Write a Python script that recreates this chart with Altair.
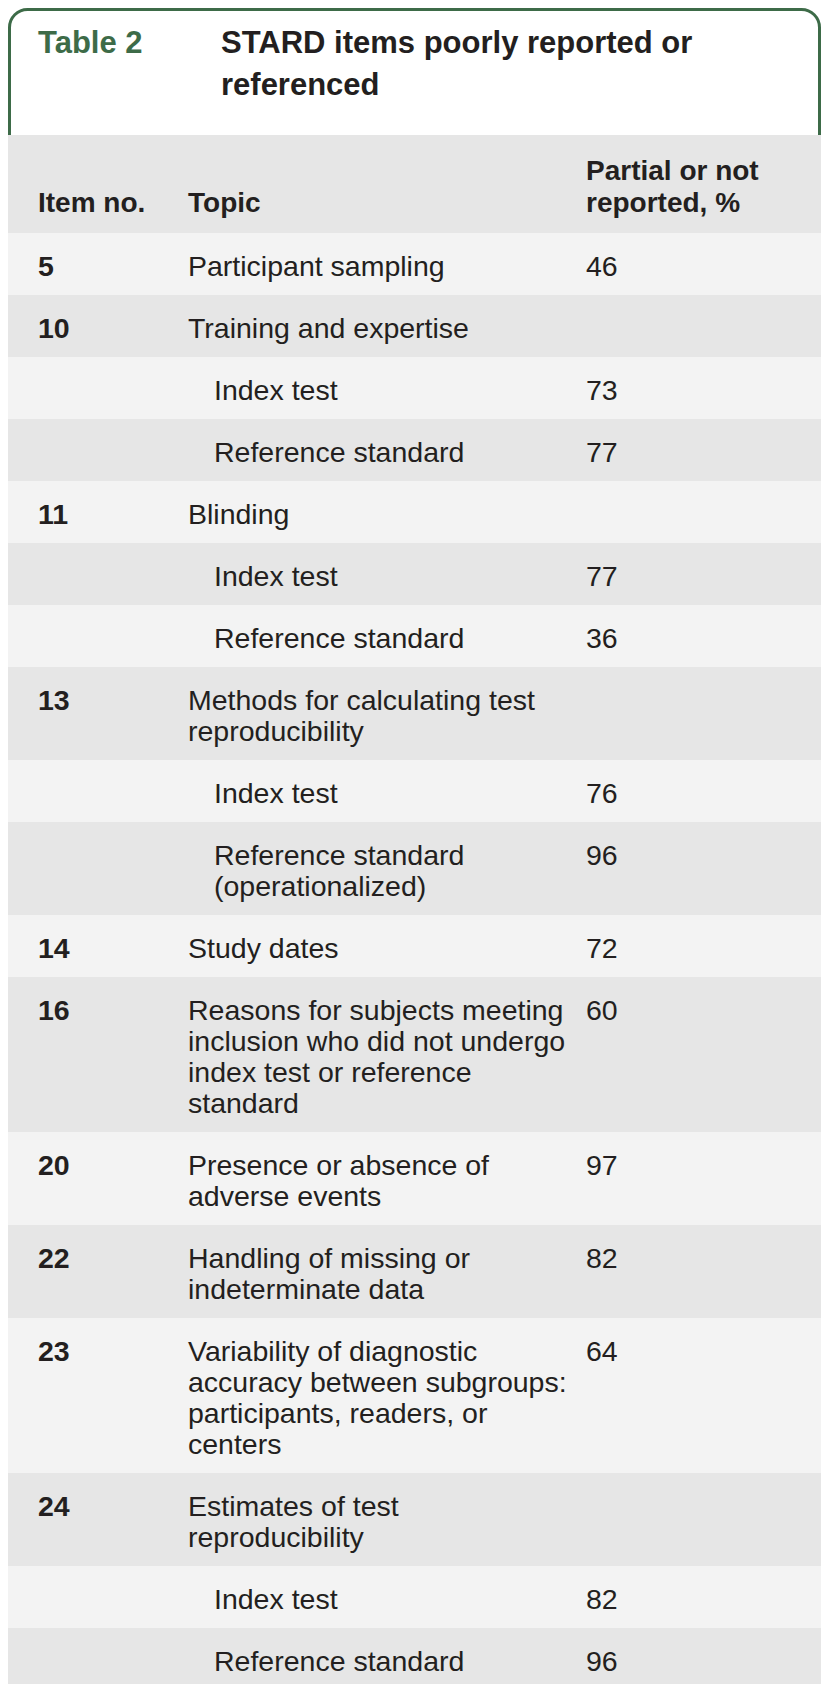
import altair as alt
import pandas as pd

# ---- table content ----
items = ["5", "10", "", "", "11", "", "", "13", "", "", "14", "16", "20", "22", "23", "24", "", ""]
topics = [
    "Participant sampling",
    "Training and expertise",
    "Index test",
    "Reference standard",
    "Blinding",
    "Index test",
    "Reference standard",
    "Methods for calculating test\nreproducibility",
    "Index test",
    "Reference standard\n(operationalized)",
    "Study dates",
    "Reasons for subjects meeting\ninclusion who did not undergo\nindex test or reference\nstandard",
    "Presence or absence of\nadverse events",
    "Handling of missing or\nindeterminate data",
    "Variability of diagnostic\naccuracy between subgroups:\nparticipants, readers, or\ncenters",
    "Estimates of test\nreproducibility",
    "Index test",
    "Reference standard",
]
is_sub = [False, False, True, True, False, True, True, False, True, True,
          False, False, False, False, False, False, True, True]
pct = ["46", "", "73", "77", "", "77", "36", "", "76", "96", "72", "60",
       "97", "82", "64", "", "82", "96"]

table_label = "Table 2"
title_lines = ["STARD items poorly reported or", "referenced"]
header_cols = ["Item no.", "Topic", "Partial or not\nreported, %"]

# ---- layout constants (page pixel coordinates) ----
OFF = 8
X_MAX, Y_MAX = 821, 1684        # visible page region (keeps page from overflowing)
HEAD_TOP, HEAD_BOT = 135, 233
ROW_H, LINE_H, BASE_OFF = 62, 31, 43
X_ITEM, X_TOPIC, X_SUB, X_PCT = 38, 188, 214, 586
FONT = "Liberation Sans"
TXT = "#231f20"
GREEN = "#3d6b48"

# build rows
bands, texts, bold_texts = [], [], []
y = HEAD_BOT
for i, t in enumerate(topics):
    lines = t.split("\n")
    h = ROW_H + LINE_H * (len(lines) - 1)
    bands.append({"y": y, "y2": min(y + h, Y_MAX), "shade": "dark" if i % 2 else "light"})
    base = y + BASE_OFF
    if items[i]:
        bold_texts.append({"x": X_ITEM, "y": base, "t": items[i]})
    for k, ln in enumerate(lines):
        texts.append({"x": X_SUB if is_sub[i] else X_TOPIC, "y": base + k * LINE_H, "t": ln})
    if pct[i]:
        texts.append({"x": X_PCT, "y": base, "t": pct[i]})
    y += h

bands.insert(0, {"y": HEAD_TOP, "y2": HEAD_BOT, "shade": "dark"})
bands_df = pd.DataFrame(bands)
bands_df["x"] = OFF
bands_df["x2"] = X_MAX

head = []
for cx, lab in zip([X_ITEM, X_TOPIC, X_PCT], header_cols):
    ls = lab.split("\n")
    for k, ln in enumerate(ls):
        head.append({"x": cx, "y": 212 - (len(ls) - 1 - k) * 32, "t": ln})

title_df = pd.DataFrame([{"x": 221, "y": 53 + k * 42, "t": s} for k, s in enumerate(title_lines)])
label_df = pd.DataFrame([{"x": X_ITEM, "y": 53, "t": table_label}])
box_df = pd.DataFrame([{"x": 9.5, "x2": X_MAX - 1.5, "y": 9.5, "y2": 170}])
text_df = pd.DataFrame(texts)
bold_df = pd.DataFrame(bold_texts)
head_df = pd.DataFrame(head)

xs = alt.Scale(domain=[OFF, X_MAX], nice=False, zero=False)
ys = alt.Scale(domain=[OFF, Y_MAX], nice=False, zero=False, reverse=True)

def X(f="x"):
    return alt.X(f"{f}:Q", scale=xs, axis=None)

def Y(f="y"):
    return alt.Y(f"{f}:Q", scale=ys, axis=None)

box = alt.Chart(box_df).mark_rect(fill="white", stroke=GREEN, strokeWidth=3, cornerRadius=18).encode(
    x=X(), x2="x2:Q", y=Y(), y2="y2:Q")

band = alt.Chart(bands_df).mark_rect().encode(
    x=X(), x2="x2:Q", y=Y(), y2="y2:Q",
    color=alt.Color("shade:N", scale=alt.Scale(domain=["light", "dark"], range=["#f3f3f3", "#e6e6e6"]), legend=None))

label = alt.Chart(label_df).mark_text(align="left", baseline="alphabetic", font=FONT, fontSize=31,
                                      fontWeight="bold", color=GREEN).encode(x=X(), y=Y(), text="t:N")
title = alt.Chart(title_df).mark_text(align="left", baseline="alphabetic", font=FONT, fontSize=31,
                                      fontWeight="bold", color=TXT).encode(x=X(), y=Y(), text="t:N")
header = alt.Chart(head_df).mark_text(align="left", baseline="alphabetic", font=FONT, fontSize=28,
                                      fontWeight="bold", color=TXT).encode(x=X(), y=Y(), text="t:N")
bold = alt.Chart(bold_df).mark_text(align="left", baseline="alphabetic", font=FONT, fontSize=28.5,
                                    fontWeight="bold", color=TXT).encode(x=X(), y=Y(), text="t:N")
body = alt.Chart(text_df).mark_text(align="left", baseline="alphabetic", font=FONT, fontSize=28.5,
                                    color=TXT).encode(x=X(), y=Y(), text="t:N")

chart = alt.layer(box, band, label, title, header, bold, body).properties(
    width=X_MAX - OFF, height=Y_MAX - OFF, padding=0, background="white"
).configure_view(stroke=None)

chart.save("out.html", embed_options={"renderer": "svg", "actions": False})
